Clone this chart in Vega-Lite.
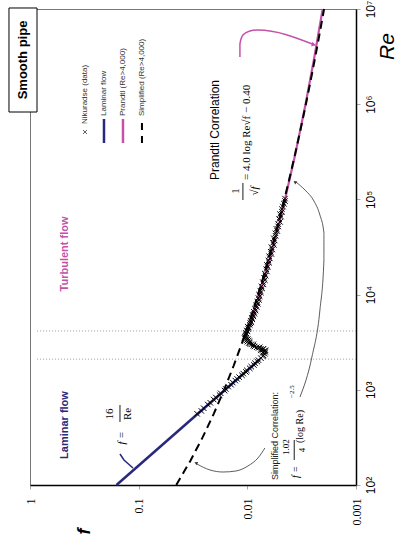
{
  "$schema": "https://vega.github.io/schema/vega-lite/v6.json",
  "width": 326,
  "height": 476,
  "autosize": {"type": "none"},
  "padding": {"left": 30, "top": 9, "right": 42, "bottom": 69},
  "config": {"view": {"stroke": "#777", "strokeWidth": 1}, "font": "Liberation Sans"},
  "datasets": {
    "nikuradse": [
      {"Re": 560, "f": 0.0290}, {"Re": 600, "f": 0.0265}, {"Re": 640, "f": 0.0252}, {"Re": 700, "f": 0.0231},
      {"Re": 730, "f": 0.0219}, {"Re": 790, "f": 0.0204}, {"Re": 830, "f": 0.0195}, {"Re": 880, "f": 0.0180},
      {"Re": 920, "f": 0.0176}, {"Re": 980, "f": 0.0162}, {"Re": 1020, "f": 0.0158}, {"Re": 1080, "f": 0.0150},
      {"Re": 1130, "f": 0.0141}, {"Re": 1190, "f": 0.0136}, {"Re": 1250, "f": 0.0129}, {"Re": 1300, "f": 0.0124},
      {"Re": 1360, "f": 0.0119}, {"Re": 1420, "f": 0.0112}, {"Re": 1480, "f": 0.0109}, {"Re": 1540, "f": 0.0103},
      {"Re": 1600, "f": 0.0101}, {"Re": 1680, "f": 0.0095}, {"Re": 1750, "f": 0.0092}, {"Re": 1820, "f": 0.0087},
      {"Re": 1900, "f": 0.0085}, {"Re": 1980, "f": 0.0081}, {"Re": 2050, "f": 0.0079}, {"Re": 2150, "f": 0.0075},
      {"Re": 2250, "f": 0.0072}, {"Re": 2300, "f": 0.0071}, {"Re": 2400, "f": 0.0069}, {"Re": 2450, "f": 0.0072},
      {"Re": 2500, "f": 0.0068}, {"Re": 2550, "f": 0.0070}, {"Re": 2600, "f": 0.0068}, {"Re": 2600, "f": 0.0075},
      {"Re": 2650, "f": 0.0072}, {"Re": 2700, "f": 0.0075}, {"Re": 2700, "f": 0.0071}, {"Re": 2750, "f": 0.0079},
      {"Re": 2800, "f": 0.0082}, {"Re": 2800, "f": 0.0077}, {"Re": 2850, "f": 0.0086}, {"Re": 2900, "f": 0.0088},
      {"Re": 3000, "f": 0.0092}, {"Re": 3000, "f": 0.0088}, {"Re": 3050, "f": 0.0095}, {"Re": 3100, "f": 0.0097},
      {"Re": 3200, "f": 0.0100}, {"Re": 3200, "f": 0.0095}, {"Re": 3300, "f": 0.0102}, {"Re": 3300, "f": 0.0097},
      {"Re": 3400, "f": 0.0104}, {"Re": 3400, "f": 0.0099}, {"Re": 3500, "f": 0.0106}, {"Re": 3600, "f": 0.0105},
      {"Re": 3700, "f": 0.0104}, {"Re": 3800, "f": 0.0103}, {"Re": 3900, "f": 0.0102},
      {"Re": 3950, "f": 0.0103}, {"Re": 4100, "f": 0.0100}, {"Re": 4200, "f": 0.0101}, {"Re": 4350, "f": 0.0098},
      {"Re": 4500, "f": 0.0097}, {"Re": 4600, "f": 0.0099}, {"Re": 4800, "f": 0.0095}, {"Re": 5000, "f": 0.0094},
      {"Re": 5100, "f": 0.0092}, {"Re": 5300, "f": 0.0093}, {"Re": 5500, "f": 0.0090}, {"Re": 5700, "f": 0.0091},
      {"Re": 5900, "f": 0.0088}, {"Re": 6100, "f": 0.0089}, {"Re": 6300, "f": 0.0086}, {"Re": 6600, "f": 0.0087},
      {"Re": 6800, "f": 0.0084}, {"Re": 7100, "f": 0.0085}, {"Re": 7400, "f": 0.0082}, {"Re": 7700, "f": 0.0083},
      {"Re": 8000, "f": 0.0080}, {"Re": 8400, "f": 0.0081}, {"Re": 8800, "f": 0.0078}, {"Re": 9200, "f": 0.0079},
      {"Re": 9600, "f": 0.0077}, {"Re": 10000, "f": 0.0078}, {"Re": 10500, "f": 0.0075}, {"Re": 11000, "f": 0.0076},
      {"Re": 11600, "f": 0.0073}, {"Re": 12200, "f": 0.0074}, {"Re": 12800, "f": 0.0071}, {"Re": 13500, "f": 0.0072},
      {"Re": 14200, "f": 0.0069}, {"Re": 15000, "f": 0.0070}, {"Re": 15800, "f": 0.0068}, {"Re": 16600, "f": 0.0069},
      {"Re": 17500, "f": 0.0066}, {"Re": 18500, "f": 0.0067}, {"Re": 19500, "f": 0.0065}, {"Re": 20500, "f": 0.0066},
      {"Re": 21600, "f": 0.0063}, {"Re": 22800, "f": 0.0064}, {"Re": 24000, "f": 0.0062}, {"Re": 25300, "f": 0.0063},
      {"Re": 26700, "f": 0.0060}, {"Re": 28200, "f": 0.0061}, {"Re": 29800, "f": 0.0059}, {"Re": 31500, "f": 0.0060},
      {"Re": 33200, "f": 0.0057}, {"Re": 35000, "f": 0.0058}, {"Re": 37000, "f": 0.0056}, {"Re": 39000, "f": 0.0057},
      {"Re": 41500, "f": 0.0055}, {"Re": 44000, "f": 0.0055}, {"Re": 46500, "f": 0.0053}, {"Re": 49000, "f": 0.0054},
      {"Re": 52000, "f": 0.0052}, {"Re": 55000, "f": 0.0052}, {"Re": 58000, "f": 0.0050}, {"Re": 62000, "f": 0.0051},
      {"Re": 66000, "f": 0.0049}, {"Re": 70000, "f": 0.0050}, {"Re": 74000, "f": 0.0048}, {"Re": 79000, "f": 0.0048},
      {"Re": 84000, "f": 0.0047}, {"Re": 90000, "f": 0.0046}, {"Re": 96000, "f": 0.0045}, {"Re": 102000, "f": 0.0045}
    ],
    "laminar": [{"Re": 100, "f": 0.16}, {"Re": 2100, "f": 0.007619}],
    "prandtl": [
      {"Re": 4000, "f": 0.009986}, {"Re": 6000, "f": 0.008881}, {"Re": 10000, "f": 0.007727}, {"Re": 20000, "f": 0.006476},
      {"Re": 30000, "f": 0.005875}, {"Re": 60000, "f": 0.00502}, {"Re": 100000, "f": 0.0045}, {"Re": 300000, "f": 0.003618},
      {"Re": 1000000, "f": 0.002913}, {"Re": 3000000, "f": 0.002431}, {"Re": 10000000, "f": 0.002026}
    ],
    "simplified": [
      {"Re": 100, "f": 0.04508}, {"Re": 177.8, "f": 0.03358}, {"Re": 316.2, "f": 0.0258}, {"Re": 562.3, "f": 0.020333},
      {"Re": 1000, "f": 0.016358}, {"Re": 1778, "f": 0.013391}, {"Re": 3162, "f": 0.011127}, {"Re": 5623, "f": 0.009364},
      {"Re": 10000, "f": 0.0079688}, {"Re": 17783, "f": 0.006848}, {"Re": 31623, "f": 0.005936}, {"Re": 56234, "f": 0.005186},
      {"Re": 100000, "f": 0.0045616}, {"Re": 177828, "f": 0.004038}, {"Re": 316228, "f": 0.0035944}, {"Re": 562341, "f": 0.003216},
      {"Re": 1000000, "f": 0.0028917}, {"Re": 1778279, "f": 0.002611}, {"Re": 3162278, "f": 0.0023673}, {"Re": 5623413, "f": 0.002154},
      {"Re": 10000000, "f": 0.001967}
    ]
  },
  "encoding": {
    "x": {
      "field": "f", "type": "quantitative",
      "scale": {"type": "log", "domain": [0.001, 1], "reverse": true},
      "axis": {
        "values": [1, 0.1, 0.01, 0.001],
        "labelExpr": "datum.value >= 0.5 ? '1' : datum.value >= 0.05 ? '0.1' : datum.value >= 0.005 ? '0.01' : '0.001'",
        "labelAngle": -90, "labelAlign": "right", "labelBaseline": "middle",
        "labelFont": "Liberation Serif", "labelFontSize": 12, "labelColor": "black", "labelPadding": 9,
        "labelFlush": false, "labelOverlap": false,
        "tickSize": 4, "tickColor": "#aaa", "domainColor": "black", "domainWidth": 1.5, "grid": false,
        "title": "f", "titleFont": "Liberation Sans", "titleFontSize": 18, "titleFontWeight": "bold", "titleFontStyle": "italic",
        "titleAngle": -90, "titleX": 54, "titleY": 46, "titleAlign": "center", "titleBaseline": "middle", "titleColor": "black"
      }
    },
    "y": {
      "field": "Re", "type": "quantitative",
      "scale": {"type": "log", "domain": [100, 10000000]},
      "axis": {
        "orient": "right",
        "values": [100, 1000, 10000, 100000, 1000000, 10000000],
        "labelExpr": "'10' + ['²','³','⁴','⁵','⁶','⁷'][round(log(datum.value)/LN10)-2]",
        "labelAngle": -90, "labelAlign": "center", "labelBaseline": "top",
        "labelFont": "Liberation Sans", "labelFontSize": 12, "labelColor": "black", "labelPadding": 5,
        "labelFlush": false, "labelOverlap": false,
        "tickSize": 4, "tickColor": "#aaa", "domainColor": "black", "domainWidth": 1.5, "grid": false,
        "title": "Re", "titleFont": "Liberation Sans", "titleFontSize": 21, "titleFontWeight": "normal", "titleFontStyle": "italic",
        "titleAngle": -90, "titleX": 31, "titleY": 37, "titleAlign": "center", "titleBaseline": "middle", "titleColor": "black"
      }
    }
  },
  "layer": [
    {
      "data": {"values": [{"Re": 2100, "f": 0.86, "f2": 0.001}, {"Re": 4150, "f": 0.86, "f2": 0.001}]},
      "mark": {"type": "rule", "color": "#999", "strokeWidth": 1, "strokeDash": [1, 2]},
      "encoding": {"x2": {"field": "f2"}}
    },
    {
      "data": {"name": "prandtl"},
      "mark": {"type": "line", "color": "#c452a8", "strokeWidth": 2.2}
    },
    {
      "data": {"name": "simplified"},
      "mark": {"type": "line", "color": "black", "strokeWidth": 2, "strokeDash": [8, 5]}
    },
    {
      "data": {"name": "laminar"},
      "mark": {"type": "line", "color": "#28297c", "strokeWidth": 2.5}
    },
    {
      "data": {"name": "nikuradse"},
      "mark": {"type": "point", "shape": "M-1,-1L1,1M-1,1L1,-1", "filled": false, "stroke": "black", "strokeWidth": 1, "size": 30, "opacity": 1}
    },
    {
      "data": {"values": [
        {"p": "a", "f": 0.003281, "Re": 839}, {"p": "a", "f": 0.002545, "Re": 2213}, {"p": "a", "f": 0.002148, "Re": 6887},
        {"p": "a", "f": 0.001973, "Re": 23080}, {"p": "a", "f": 0.001973, "Re": 44360}, {"p": "a", "f": 0.002148, "Re": 68550},
        {"p": "a", "f": 0.002439, "Re": 96170}, {"p": "a", "f": 0.002951, "Re": 125600}, {"p": "a", "f": 0.003573, "Re": 152400},
        {"p": "b", "f": 0.006887, "Re": 244.8}, {"p": "b", "f": 0.007989, "Re": 192.1}, {"p": "b", "f": 0.009874, "Re": 158.3},
        {"p": "b", "f": 0.01273, "Re": 140.3}, {"p": "b", "f": 0.01677, "Re": 136.9}, {"p": "b", "f": 0.02208, "Re": 143.8},
        {"p": "b", "f": 0.02908, "Re": 166.2}
      ]},
      "mark": {"type": "line", "color": "#333", "strokeWidth": 0.8, "interpolate": "monotone"},
      "encoding": {"detail": {"field": "p"}, "order": {"value": null}}
    },
    {
      "data": {"values": [
        {"f": 0.0117, "Re": 3131000}, {"f": 0.0117, "Re": 4289000}, {"f": 0.01098, "Re": 5333000},
        {"f": 0.009465, "Re": 5875000}, {"f": 0.007989, "Re": 6018000}, {"f": 0.002388, "Re": 4188000}
      ]},
      "mark": {"type": "line", "color": "#c452a8", "strokeWidth": 1.5, "interpolate": "monotone"},
      "encoding": {"order": {"value": null}}
    },
    {
      "data": {"values": [{"f": 0.1486, "Re": 211.7}, {"f": 0.1365, "Re": 183.1}, {"f": 0.1128, "Re": 150.8}]},
      "mark": {"type": "line", "color": "#28297c", "strokeWidth": 1.5},
      "encoding": {"order": {"value": null}}
    },
    {
      "data": {"values": [{"f": 0.00245, "Re": 4230000}]},
      "mark": {"type": "point", "shape": "triangle-right", "filled": true, "color": "#c452a8", "size": 22, "angle": 13, "opacity": 1}
    },
    {
      "data": {"values": [{"f": 0.003648, "Re": 152400}]},
      "mark": {"type": "point", "shape": "triangle-up", "filled": true, "color": "#333", "size": 14, "angle": 306, "opacity": 1}
    },
    {
      "data": {"values": [{"f": 0.02972, "Re": 170.3}]},
      "mark": {"type": "point", "shape": "triangle-up", "filled": true, "color": "#333", "size": 14, "angle": 295, "opacity": 1}
    },
    {
      "data": {"values": [
        {"f": 0.01098, "Re": 98560, "Re2": 148600},
        {"f": 0.1486, "Re": 459.1, "Re2": 692.1},
        {"f": 0.003702, "Re": 183.1, "Re2": 297}
      ]},
      "mark": {"type": "rule", "color": "black", "strokeWidth": 0.9},
      "encoding": {"y2": {"field": "Re2"}}
    },
    {
      "data": {"values": [{"f": 0.4764, "Re": 26700, "t": "Turbulent flow"}]},
      "mark": {"type": "text", "angle": 270, "align": "center", "baseline": "middle", "fontSize": 11, "fontWeight": "bold", "color": "#c452a8"},
      "encoding": {"text": {"field": "t"}}
    },
    {
      "data": {"values": [{"f": 0.4764, "Re": 426.6, "t": "Laminar flow"}]},
      "mark": {"type": "text", "angle": 270, "align": "center", "baseline": "middle", "fontSize": 11, "fontWeight": "bold", "color": "#28297c"},
      "encoding": {"text": {"field": "t"}}
    },
    {
      "data": {"values": [{"f": 0.01987, "Re": 535800, "t": "Prandtl Correlation"}]},
      "mark": {"type": "text", "angle": 270, "align": "center", "baseline": "middle", "fontSize": 12, "color": "black"},
      "encoding": {"text": {"field": "t"}}
    },
    {
      "data": {"values": [
        {"f": 0.01273, "Re": 122400, "t": "1"},
        {"f": 0.1837, "Re": 556.9, "t": "16"},
        {"f": 0.1241, "Re": 556.9, "t": "Re"}
      ]},
      "mark": {"type": "text", "angle": 270, "align": "center", "baseline": "middle", "font": "Liberation Serif", "fontSize": 11, "color": "black"},
      "encoding": {"text": {"field": "t"}}
    },
    {
      "data": {"values": [
        {"f": 0.008511, "Re": 122400, "t": "√f"},
        {"f": 0.1424, "Re": 311.7, "t": "f ="}
      ]},
      "mark": {"type": "text", "angle": 270, "align": "center", "baseline": "middle", "font": "Liberation Serif", "fontStyle": "italic", "fontSize": 11, "color": "black"},
      "encoding": {"text": {"field": "t"}}
    },
    {
      "data": {"values": [{"f": 0.01008, "Re": 159900, "t": "= 4.0 log Re√f − 0.40"}]},
      "mark": {"type": "text", "angle": 270, "align": "left", "baseline": "middle", "font": "Liberation Serif", "fontSize": 11, "color": "black"},
      "encoding": {"text": {"field": "t"}}
    },
    {
      "data": {"values": [{"f": 0.005572, "Re": 112.9, "t": "Simplified Correlation:"}]},
      "mark": {"type": "text", "angle": 270, "align": "left", "baseline": "middle", "fontSize": 9, "color": "#222"},
      "encoding": {"text": {"field": "t"}}
    },
    {
      "data": {"values": [{"f": 0.003573, "Re": 136.9, "t": "f ="}]},
      "mark": {"type": "text", "angle": 270, "align": "center", "baseline": "middle", "font": "Liberation Serif", "fontStyle": "italic", "fontSize": 10, "color": "black"},
      "encoding": {"text": {"field": "t"}}
    },
    {
      "data": {"values": [{"f": 0.004415, "Re": 250.6, "t": "1.02"}, {"f": 0.003112, "Re": 233, "t": "4"}]},
      "mark": {"type": "text", "angle": 270, "align": "center", "baseline": "middle", "font": "Liberation Serif", "fontSize": 9, "color": "black"},
      "encoding": {"text": {"field": "t"}}
    },
    {
      "data": {"values": [{"f": 0.003281, "Re": 276.2, "t": "(log Re)"}]},
      "mark": {"type": "text", "angle": 270, "align": "left", "baseline": "middle", "font": "Liberation Serif", "fontSize": 10, "color": "black"},
      "encoding": {"text": {"field": "t"}}
    },
    {
      "data": {"values": [{"f": 0.003889, "Re": 820.2, "t": "−2.5"}]},
      "mark": {"type": "text", "angle": 270, "align": "left", "baseline": "middle", "font": "Liberation Serif", "fontSize": 7, "color": "black"},
      "encoding": {"text": {"field": "t"}}
    },
    {
      "data": {"values": [{"f": 0.3119, "Re": 510700}]},
      "mark": {"type": "point", "shape": "M-1,-1L1,1M-1,1L1,-1", "filled": false, "stroke": "#333", "strokeWidth": 0.8, "size": 16, "opacity": 1}
    },
    {
      "data": {"values": [
        {"f": 0.3119, "Re": 619300, "t": "Nikuradse (data)"},
        {"f": 0.2085, "Re": 751600, "t": "Laminar flow"},
        {"f": 0.1394, "Re": 751600, "t": "Prandtl (Re>4,000)"},
        {"f": 0.09325, "Re": 751600, "t": "Simplified (Re>4,000)"}
      ]},
      "mark": {"type": "text", "angle": 270, "align": "left", "baseline": "middle", "fontSize": 8, "color": "#333"},
      "encoding": {"text": {"field": "t"}}
    },
    {
      "data": {"values": [{"f": 0.2085, "Re": 391200, "Re2": 699000}]},
      "mark": {"type": "rule", "color": "#28297c", "strokeWidth": 2.5},
      "encoding": {"y2": {"field": "Re2"}}
    },
    {
      "data": {"values": [{"f": 0.1394, "Re": 391200, "Re2": 699000}]},
      "mark": {"type": "rule", "color": "#c452a8", "strokeWidth": 2.5},
      "encoding": {"y2": {"field": "Re2"}}
    },
    {
      "data": {"values": [{"f": 0.09325, "Re": 391200, "Re2": 699000}]},
      "mark": {"type": "rule", "color": "black", "strokeWidth": 2, "strokeDash": [7, 6]},
      "encoding": {"y2": {"field": "Re2"}}
    },
    {
      "data": {"values": [{"f": 1.561, "f2": 0.862, "Re": 827900, "Re2": 10245000}]},
      "mark": {"type": "rect", "fill": "white", "stroke": "black", "strokeWidth": 1},
      "encoding": {"x2": {"field": "f2"}, "y2": {"field": "Re2"}}
    },
    {
      "data": {"values": [{"f": 1.16, "Re": 2913000, "t": "Smooth pipe"}]},
      "mark": {"type": "text", "angle": 270, "align": "center", "baseline": "middle", "fontSize": 13, "fontWeight": "bold", "color": "black"},
      "encoding": {"text": {"field": "t"}}
    }
  ]
}
